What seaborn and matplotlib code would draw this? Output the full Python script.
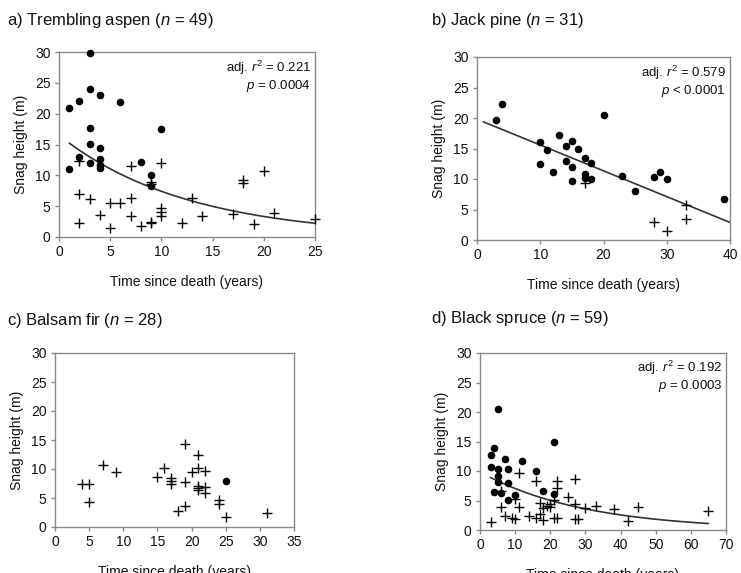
import numpy as np
import pandas as pd
import matplotlib
matplotlib.use("Agg")
import matplotlib.pyplot as plt
import seaborn as sns

# ---------------- data ----------------
# a) Trembling aspen
a_circ_x = [1, 1, 2, 2, 3, 3, 3, 3, 3, 4, 4, 4, 4, 4, 6, 8, 9, 9, 10]
a_circ_y = [21.0, 11.1, 22.1, 12.9, 29.8, 24.0, 17.6, 15.1, 12.0, 23.1, 14.4, 12.7, 11.7, 11.2, 21.9, 12.2, 10.1, 8.2, 17.5]
a_plus_x = [2, 2, 2, 3, 4, 5, 5, 6, 7, 7, 7, 8, 9, 9, 9, 9, 10, 10, 10, 10, 12, 13, 14, 17, 18, 18, 19, 20, 21, 25]
a_plus_y = [12.3, 7.0, 2.2, 6.1, 3.5, 5.5, 1.5, 5.5, 11.5, 6.3, 3.4, 1.8, 9.0, 8.6, 2.5, 2.2, 12.0, 4.7, 4.0, 3.4,
            2.2, 6.4, 3.4, 3.8, 9.2, 8.7, 2.1, 10.7, 3.9, 2.9]
a_fit = (16.5, 0.08)          # exponential fit: a*exp(-b*x)
a_fit_range = (1, 25)

# b) Jack pine
b_circ_x = [3, 4, 10, 10, 11, 12, 13, 14, 14, 15, 15, 15, 16, 17, 17, 17, 18, 18, 20, 23, 25, 28, 29, 30, 39]
b_circ_y = [19.6, 22.3, 16.0, 12.4, 14.8, 11.1, 17.2, 15.4, 13.0, 16.3, 12.0, 9.6, 15.0, 13.4, 10.8, 10.2, 12.6,
            10.0, 20.5, 10.5, 8.1, 10.4, 11.1, 10.0, 6.8]
b_plus_x = [17, 28, 30, 33, 33]
b_plus_y = [9.4, 3.0, 1.5, 5.8, 3.5]
b_fit = (19.8, -0.423)        # linear fit: intercept, slope
b_fit_range = (1, 40)

# c) Balsam fir
c_circ_x = [25]
c_circ_y = [8.0]
c_plus_x = [4, 5, 5, 7, 9, 15, 16, 17, 17, 17, 18, 19, 19, 19, 20, 21, 21, 21, 21, 21, 22, 22, 22, 24, 24, 25, 31]
c_plus_y = [7.5, 7.4, 4.3, 10.7, 9.4, 8.6, 10.1, 8.5, 8.0, 7.4, 2.7, 14.3, 7.8, 3.7, 9.4, 12.5, 10.2, 7.1, 6.7,
            6.4, 9.7, 6.9, 5.9, 4.6, 3.9, 1.8, 2.5]

# d) Black spruce
d_circ_x = [3, 3, 4, 4, 5, 5, 5, 5, 6, 7, 8, 8, 8, 10, 12, 16, 18, 21, 21]
d_circ_y = [12.7, 10.7, 13.9, 6.5, 20.5, 10.4, 9.2, 8.1, 6.2, 12.0, 10.4, 7.9, 5.1, 5.9, 11.7, 10.0, 6.6, 15.0, 6.1]
d_plus_x = [3, 6, 6, 7, 9, 10, 10, 11, 11, 14, 16, 16, 17, 17, 18, 18, 19, 20, 20, 21, 21, 22, 22, 22, 25,
            27, 27, 27, 28, 30, 33, 38, 42, 45, 65]
d_plus_y = [1.4, 3.9, 6.6, 2.4, 2.1, 1.8, 5.2, 3.9, 9.7, 2.4, 8.3, 2.1, 4.5, 2.7, 1.7, 3.7, 4.1, 4.4, 3.9, 5.1,
            2.0, 2.0, 8.3, 7.1, 5.6, 8.7, 4.4, 1.9, 1.9, 3.8, 4.1, 3.6, 1.6, 3.9, 3.2]
d_fit = (9.85, 0.0337)
d_fit_range = (3, 65)

titles = ["a) Trembling aspen (", "b) Jack pine (", "c) Balsam fir (", "d) Black spruce ("]
ns = [49, 31, 28, 59]
stats = [("0.221", "= 0.0004"), ("0.579", "< 0.0001"), None, ("0.192", "= 0.0003")]
xmax = [25, 40, 35, 70]
xstep = [5, 10, 5, 10]

# ---------------- style ----------------
sns.set_theme(style="white")
plt.rcParams["font.family"] = ["Liberation Sans", "DejaVu Sans"]
plt.rcParams["mathtext.fontset"] = "custom"
plt.rcParams["mathtext.it"] = "Liberation Sans:italic"
plt.rcParams["mathtext.rm"] = "Liberation Sans"

W, H = 741, 573
fig = plt.figure(figsize=(W / 100, H / 100), dpi=100)

boxes = [(59, 315, 52, 237), (477, 730, 57, 240), (55, 294, 353, 527), (480, 726, 353, 530)]
title_pos = [(7, 20), (431, 20), (7, 320), (431, 318)]

spine_col = "#8a8a8a"
txt_col = "#111111"

panels = [
    (a_circ_x, a_circ_y, a_plus_x, a_plus_y),
    (b_circ_x, b_circ_y, b_plus_x, b_plus_y),
    (c_circ_x, c_circ_y, c_plus_x, c_plus_y),
    (d_circ_x, d_circ_y, d_plus_x, d_plus_y),
]

for i, (cx, cy, px, py) in enumerate(panels):
    l, r, t, b = boxes[i]
    ax = fig.add_axes([l / W, 1 - b / H, (r - l) / W, (b - t) / H])
    dfc = pd.DataFrame({"x": cx, "y": cy})
    dfp = pd.DataFrame({"x": px, "y": py})
    sns.scatterplot(data=dfp, x="x", y="y", marker="+", s=45, color="black",
                    linewidth=1.0, ax=ax, clip_on=False, zorder=3)
    sns.scatterplot(data=dfc, x="x", y="y", marker="o", s=30, color="black",
                    edgecolor="black", linewidth=0, ax=ax, clip_on=False, zorder=4)

    # fitted curves
    if i == 0:
        xs = np.linspace(*a_fit_range, 100)
        ys = a_fit[0] * np.exp(-a_fit[1] * xs)
    elif i == 1:
        xs = np.linspace(*b_fit_range, 100)
        ys = b_fit[0] + b_fit[1] * xs
    elif i == 3:
        xs = np.linspace(*d_fit_range, 100)
        ys = d_fit[0] * np.exp(-d_fit[1] * xs)
    else:
        xs = None
    if xs is not None:
        sns.lineplot(x=xs, y=ys, color="#333333", linewidth=1.2, ax=ax, zorder=2)

    ax.set_xlim(0, xmax[i])
    ax.set_ylim(0, 30)
    ax.set_xticks(np.arange(0, xmax[i] + 1, xstep[i]))
    ax.set_yticks(np.arange(0, 31, 5))
    ax.tick_params(axis="both", direction="out", length=3, width=1, color=spine_col,
                   labelsize=10, pad=3, labelcolor=txt_col)
    ax.tick_params(axis="x", bottom=True)
    ax.tick_params(axis="y", left=True)
    for sp in ax.spines.values():
        sp.set_color(spine_col)
        sp.set_linewidth(1.0)
        sp.set_visible(True)
    ax.set_xlabel("Time since death (years)", fontsize=10, labelpad=11, color=txt_col)
    ax.set_ylabel("Snag height (m)", fontsize=10, labelpad=5, color=txt_col)

    if stats[i] is not None:
        r2, pv = stats[i]
        ax.text(0.985, 0.965, r"adj. $r^2$ = " + r2, transform=ax.transAxes, ha="right",
                va="top", fontsize=9.5, color=txt_col)
        ax.text(0.985, 0.86, r"$p$ " + pv, transform=ax.transAxes, ha="right",
                va="top", fontsize=9.5, color=txt_col)

    tx, ty = title_pos[i]
    fig.text(tx / W, 1 - ty / H, titles[i] + r"$n$ = " + str(ns[i]) + ")", fontsize=12,
             ha="left", va="center", color=txt_col)

fig.savefig("out.png", dpi=100, facecolor="white")
